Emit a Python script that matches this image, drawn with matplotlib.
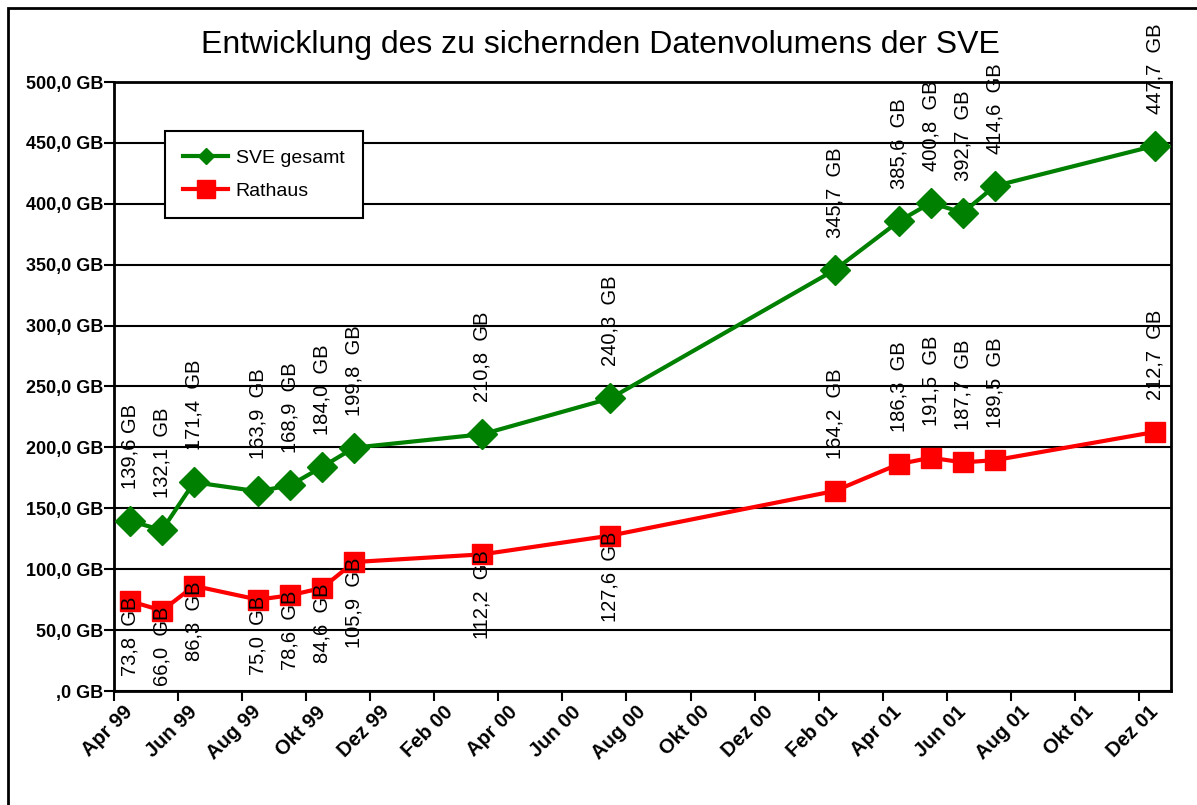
import numpy as np
import matplotlib.pyplot as plt
from matplotlib.patches import Rectangle
from matplotlib.lines import Line2D
from matplotlib.ticker import FuncFormatter

plt.rcParams['font.family'] = ['Liberation Sans', 'DejaVu Sans']

# Datumsachse mit Basiseinheit Monat (wie in Excel), Index 0 = Apr 99
monate = ['Apr 99', 'Mai 99', 'Jun 99', 'Jul 99', 'Aug 99', 'Sep 99', 'Okt 99', 'Nov 99', 'Dez 99',
          'Jan 00', 'Feb 00', 'Mrz 00', 'Apr 00', 'Mai 00', 'Jun 00', 'Jul 00', 'Aug 00', 'Sep 00',
          'Okt 00', 'Nov 00', 'Dez 00', 'Jan 01', 'Feb 01', 'Mrz 01', 'Apr 01', 'Mai 01', 'Jun 01',
          'Jul 01', 'Aug 01', 'Sep 01', 'Okt 01', 'Nov 01', 'Dez 01']

messung = ['Apr 99', 'Mai 99', 'Jun 99', 'Aug 99', 'Sep 99', 'Okt 99', 'Nov 99', 'Mrz 00',
           'Jul 00', 'Feb 01', 'Apr 01', 'Mai 01', 'Jun 01', 'Jul 01', 'Dez 01']
sve_gesamt = [139.6, 132.1, 171.4, 163.9, 168.9, 184.0, 199.8, 210.8, 240.3, 345.7,
              385.6, 400.8, 392.7, 414.6, 447.7]
rathaus = [73.8, 66.0, 86.3, 75.0, 78.6, 84.6, 105.9, 112.2, 127.6, 164.2,
           186.3, 191.5, 187.7, 189.5, 212.7]

x = [monate.index(m) + 0.5 for m in messung]


def gb(v, sep=' '):
    return f'{v:.1f}'.replace('.', ',') + sep + 'GB'


fig = plt.figure(figsize=(11.97, 8.05), dpi=100)
ax = fig.add_axes([114 / 1197, 1 - 691 / 805, (1171 - 114) / 1197, (691 - 82) / 805])

ax.plot(x, sve_gesamt, color='#008000', lw=3, marker='D', ms=15, zorder=3)
ax.plot(x, rathaus, color='#ff0000', lw=3, marker='s', ms=15, zorder=3)

# Beschriftungen der Punkte
for i, (xi, v) in enumerate(zip(x, sve_gesamt)):
    sep = ' ' if i == 0 else '  '
    ax.annotate(gb(v, sep), (xi, v), xytext=(0, 23), textcoords='offset points',
                rotation=90, ha='center', va='bottom', fontsize=14.5, annotation_clip=False)
for i, (xi, v) in enumerate(zip(x, rathaus)):
    if i < 9:
        ax.annotate(gb(v, '  '), (xi, v), xytext=(0, 3), textcoords='offset points',
                    rotation=90, ha='center', va='top', fontsize=14.5)
    else:
        ax.annotate(gb(v, '  '), (xi, v), xytext=(0, 23), textcoords='offset points',
                    rotation=90, ha='center', va='bottom', fontsize=14.5)

ax.set_xlim(0, len(monate))
ax.set_ylim(0, 500)
ax.set_yticks(np.arange(0, 501, 50))
ax.yaxis.set_major_formatter(FuncFormatter(lambda v, p: ',0 GB' if v == 0 else gb(v)))
ax.yaxis.grid(True, color='black', lw=1.5)
ax.set_axisbelow(True)

ax.set_xticks(np.arange(0, len(monate), 2))
ax.set_xticklabels([])
ax.set_xticks(np.arange(0.5, len(monate), 2), minor=True)
ax.set_xticklabels(monate[::2], minor=True, rotation=45, ha='right', va='center',
                   rotation_mode='anchor', fontsize=14.5, fontweight='bold')
ax.tick_params(axis='x', which='major', direction='out', length=7, width=1.5)
ax.tick_params(axis='x', which='minor', length=0, pad=13)
ax.tick_params(axis='y', direction='out', length=7, width=1.5, pad=1)
for lab in ax.get_yticklabels():
    lab.set_fontweight('bold')
    lab.set_fontsize(13)
for s in ax.spines.values():
    s.set_linewidth(2)

handles = [Line2D([], [], color='#008000', lw=3, marker='D', ms=8),
           Line2D([], [], color='#ff0000', lw=3, marker='s', ms=13)]
leg = ax.legend(handles, ['SVE gesamt', 'Rathaus'], loc='upper left', bbox_to_anchor=(0.048, 0.92),
                borderaxespad=0, fontsize=14, handlelength=2.3, labelspacing=0.8, borderpad=0.95,
                handletextpad=0.4, fancybox=False, edgecolor='black', framealpha=1)
leg.get_frame().set_linewidth(1.5)
leg.set_zorder(5)

fig.text(0.502, 1 - 45 / 805, 'Entwicklung des zu sichernden Datenvolumens der SVE',
         ha='center', va='center', fontsize=23)

# Rahmen um das Diagramm
fig.patches.append(Rectangle((8 / 1197, -0.1), 1.2, 1.1 - 8 / 805, transform=fig.transFigure,
                             fill=False, edgecolor='black', lw=2))

fig.savefig('out.png', dpi=100)
